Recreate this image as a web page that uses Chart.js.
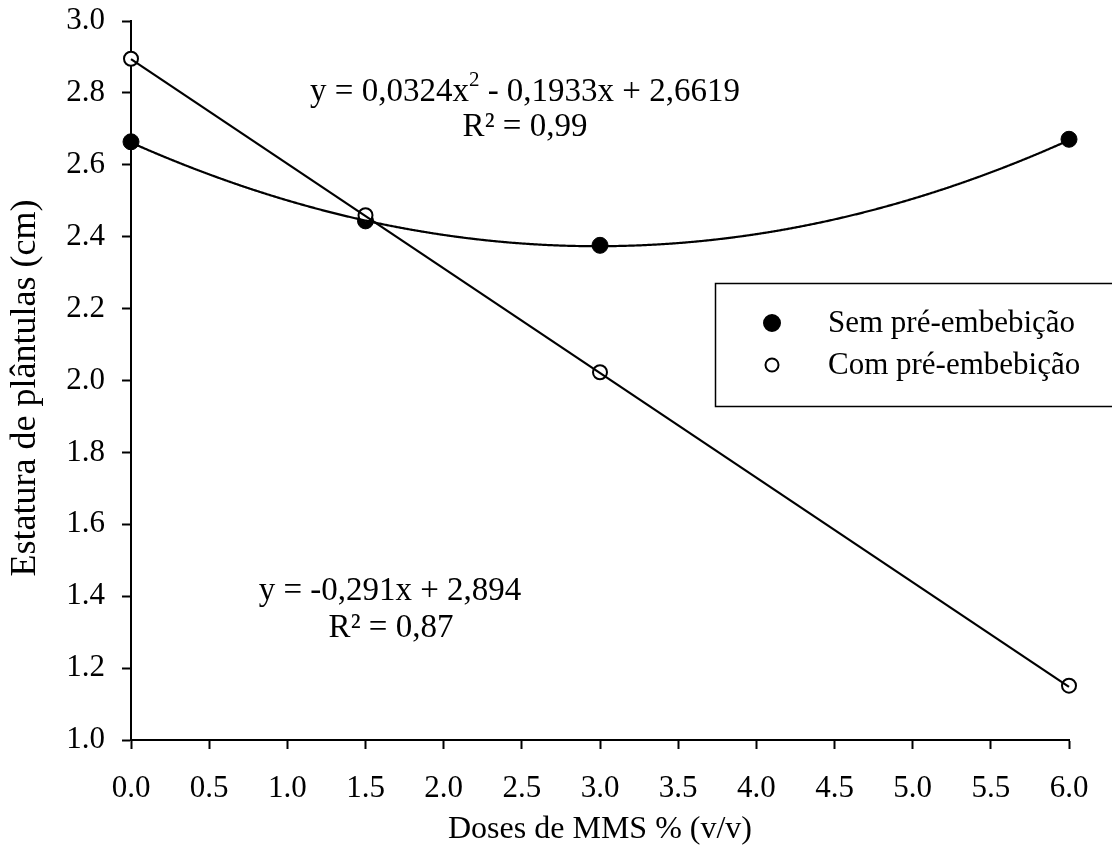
<!DOCTYPE html>
<html>
<head>
<meta charset="utf-8">
<script src="https://cdn.jsdelivr.net/npm/chart.js@4/dist/chart.umd.min.js"></script>
<style>
html,body{margin:0;padding:0;background:#fff;}
#wrap{width:1112px;height:854px;position:relative;}
</style>
</head>
<body>
<div id="wrap"><canvas id="c" width="1112" height="854"></canvas></div>
<script>
// ---- data ----
const doses = [0, 1.5, 3, 6];
const semValues = [2.664, 2.444, 2.376, 2.671];
const comValues = [2.895, 2.460, 2.023, 1.151];
const seriesNames = ['Sem pré-embebição', 'Com pré-embebição'];
const quadCoef = [2.6619, -0.1933, 0.0324];   // y = c0 + c1 x + c2 x²
const linCoef = [2.894, -0.291];              // y = c0 + c1 x
const xTicks = [0, 0.5, 1, 1.5, 2, 2.5, 3, 3.5, 4, 4.5, 5, 5.5, 6];
const yTicks = [1.0, 1.2, 1.4, 1.6, 1.8, 2.0, 2.2, 2.4, 2.6, 2.8, 3.0];
const xTitle = 'Doses de MMS % (v/v)';
const yTitle = 'Estatura de plântulas (cm)';
const eqQuad = ['y = 0,0324x', '2', ' - 0,1933x + 2,6619'];
const r2Quad = 'R² = 0,99';
const eqLin = 'y = -0,291x + 2,894';
const r2Lin = 'R² = 0,87';

const FONT = '"Liberation Serif", "Times New Roman", serif';

const toPts = (xs, ys) => xs.map((x, i) => ({x: x, y: ys[i]}));

const trendPlugin = {
  id: 'trend',
  afterDatasetsDraw(chart) {
    const ctx = chart.ctx, xs = chart.scales.x, ys = chart.scales.y;
    ctx.save();
    ctx.strokeStyle = '#000';
    ctx.lineWidth = 2.2;
    ctx.lineJoin = 'round';
    ctx.beginPath();
    const p0 = xs.getPixelForValue(0), p1 = xs.getPixelForValue(6);
    for (let px = p0; px <= p1; px += 1) {
      const x = xs.getValueForPixel(px);
      const y = quadCoef[0] + quadCoef[1] * x + quadCoef[2] * x * x;
      const py = ys.getPixelForValue(y);
      if (px === p0) ctx.moveTo(px, py); else ctx.lineTo(px, py);
    }
    ctx.stroke();
    ctx.beginPath();
    ctx.moveTo(p0, ys.getPixelForValue(linCoef[0]));
    ctx.lineTo(p1, ys.getPixelForValue(linCoef[0] + linCoef[1] * 6));
    ctx.stroke();
    ctx.restore();
  }
};

const textPlugin = {
  id: 'texts',
  afterDraw(chart) {
    const ctx = chart.ctx;
    ctx.save();
    ctx.fillStyle = '#000';
    ctx.textBaseline = 'alphabetic';
    const big = '33px ' + FONT, sup = '21px ' + FONT;
    ctx.font = big;
    const w1 = ctx.measureText(eqQuad[0]).width;
    const w3 = ctx.measureText(eqQuad[2]).width;
    ctx.font = sup;
    const w2 = ctx.measureText(eqQuad[1]).width;
    let x = 525 - (w1 + w2 + w3) / 2;
    ctx.textAlign = 'left';
    ctx.font = big;
    ctx.fillText(eqQuad[0], x, 101);
    ctx.font = sup;
    ctx.fillText(eqQuad[1], x + w1, 86);
    ctx.font = big;
    ctx.fillText(eqQuad[2], x + w1 + w2, 101);
    ctx.textAlign = 'center';
    ctx.fillText(r2Quad, 525, 136);
    ctx.fillText(eqLin, 390, 600);
    ctx.fillText(r2Lin, 391, 637);
    // axis titles
    ctx.font = '32px ' + FONT;
    ctx.fillText(xTitle, 600, 838);
    ctx.save();
    ctx.font = '36px ' + FONT;
    ctx.translate(35, 388);
    ctx.rotate(-Math.PI / 2);
    ctx.fillText(yTitle, 0, 0);
    ctx.restore();
    // legend
    const lx = 715, ly = 283, lw = 400, lh = 123;
    ctx.lineWidth = 1.5;
    ctx.strokeStyle = '#000';
    ctx.strokeRect(lx + 0.5, ly + 0.5, lw, lh);
    const rows = [323, 365];
    chart.data.datasets.slice().sort((a, b) => a.legendIndex - b.legendIndex).forEach((ds, i) => {
      ctx.beginPath();
      ctx.arc(772, rows[i], i === 0 ? 8 : 6.5, 0, Math.PI * 2);
      ctx.fillStyle = ds.backgroundColor;
      ctx.fill();
      ctx.lineWidth = 2;
      ctx.strokeStyle = '#000';
      ctx.stroke();
      ctx.fillStyle = '#000';
      ctx.font = '31px ' + FONT;
      ctx.textAlign = 'left';
      ctx.textBaseline = 'middle';
      ctx.fillText(ds.label, 828, rows[i] + 1);
    });
    ctx.restore();
  }
};

new Chart(document.getElementById('c'), {
  type: 'scatter',
  data: {
    datasets: [
      {
        label: seriesNames[0], legendIndex: 0, order: 1, clip: false,
        data: toPts(doses, semValues),
        backgroundColor: '#000', borderColor: '#000', borderWidth: 1,
        pointRadius: 8, pointHoverRadius: 8, showLine: false
      },
      {
        label: seriesNames[1], legendIndex: 1, order: 0, clip: false,
        data: toPts(doses, comValues),
        backgroundColor: '#fff', borderColor: '#000', borderWidth: 2,
        pointRadius: 7, pointHoverRadius: 7, showLine: false
      }
    ]
  },
  options: {
    responsive: false,
    animation: false,
    events: [],
    layout: { padding: { left: 0, right: 43, top: 21, bottom: 0 } },
    plugins: { legend: { display: false }, tooltip: { enabled: false } },
    scales: {
      x: {
        type: 'linear', min: 0, max: 6,
        afterBuildTicks: s => { s.ticks = xTicks.map(v => ({value: v})); },
        afterFit: s => { s.height = 114; s.paddingLeft = 0; s.paddingRight = 0; },
        border: { display: true, color: '#000', width: 2 },
        grid: { display: true, drawOnChartArea: false, drawTicks: true, tickLength: 9, tickColor: '#000', tickWidth: 2 },
        ticks: { color: '#000', font: { family: FONT, size: 31 }, padding: 21, maxRotation: 0, autoSkip: false,
                 callback: v => Number(v).toFixed(1) }
      },
      y: {
        type: 'linear', min: 1, max: 3,
        afterBuildTicks: s => { s.ticks = yTicks.map(v => ({value: v})); },
        afterFit: s => { s.width = 131; s.paddingTop = 0; s.paddingBottom = 0; },
        border: { display: true, color: '#000', width: 2 },
        grid: { display: true, drawOnChartArea: false, drawTicks: true, tickLength: 9, tickColor: '#000', tickWidth: 2 },
        ticks: { color: '#000', font: { family: FONT, size: 31 }, padding: 17, autoSkip: false,
                 callback: v => Number(v).toFixed(1) }
      }
    }
  },
  plugins: [trendPlugin, textPlugin]
});
</script>
</body>
</html>
